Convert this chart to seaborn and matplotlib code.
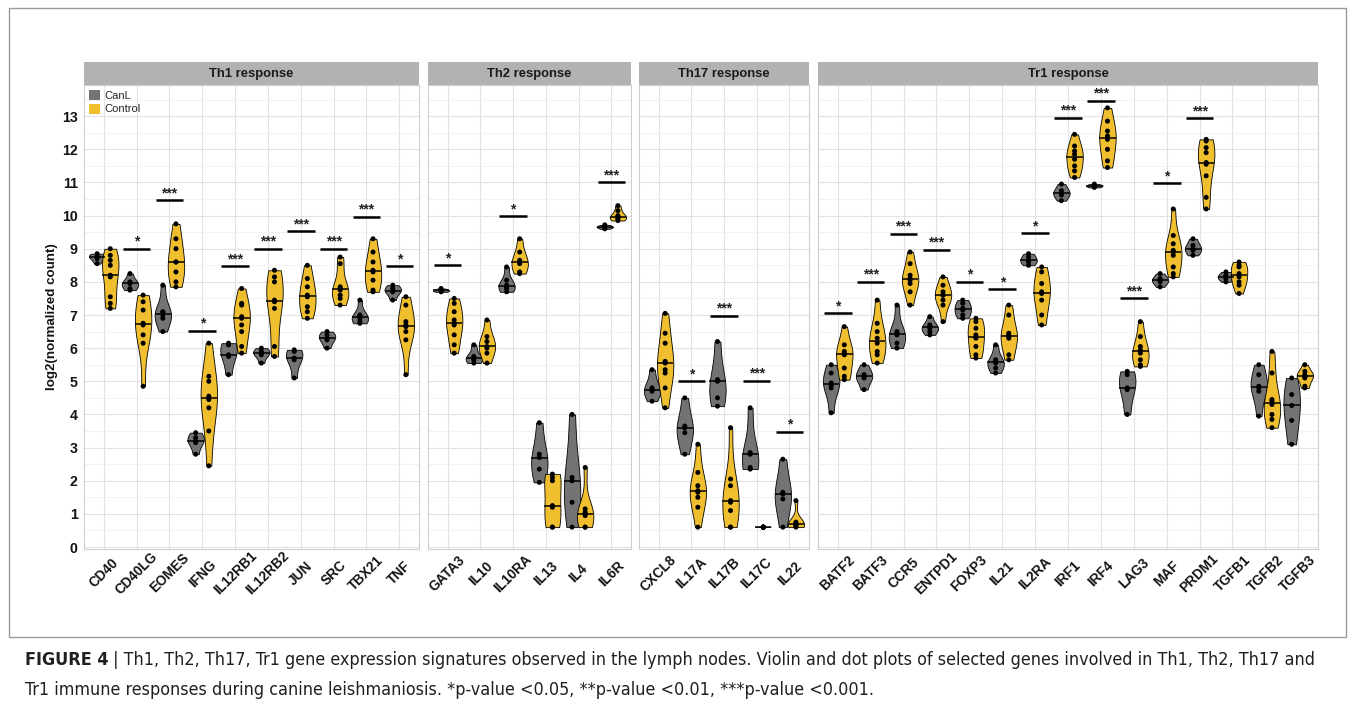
import numpy as np
import pandas as pd
import matplotlib.pyplot as plt
import seaborn as sns
from matplotlib.patches import Patch, Rectangle
from matplotlib.ticker import MultipleLocator
from matplotlib.transforms import ScaledTranslation

sns.set_style('white')
plt.rcParams['font.family'] = ['Liberation Sans', 'DejaVu Sans']

# ---- data (log2 normalized counts) ----
groups = ['CanL', 'Control']
colors = {'CanL': '#737373', 'Control': '#F0BF30'}

th1_genes = ['CD40', 'CD40LG', 'EOMES', 'IFNG', 'IL12RB1', 'IL12RB2', 'JUN', 'SRC', 'TBX21', 'TNF']
th1_canl = [
    [8.85, 8.8, 8.75, 8.7, 8.55],
    [8.25, 8.0, 7.97, 7.95, 7.8, 7.75],
    [7.9, 7.1, 7.08, 7.0, 6.9, 6.5],
    [3.45, 3.3, 3.2, 3.15, 2.8],
    [6.15, 6.1, 5.8, 5.75, 5.2],
    [6.0, 5.9, 5.85, 5.8, 5.55],
    [5.95, 5.9, 5.7, 5.65, 5.1],
    [6.5, 6.4, 6.3, 6.25, 6.0],
    [7.45, 7.0, 6.98, 6.9, 6.8, 6.75],
    [7.9, 7.8, 7.72, 7.7, 7.45],
]
th1_ctrl = [
    [9.0, 8.8, 8.65, 8.5, 8.2, 8.15, 7.55, 7.35, 7.2],
    [7.6, 7.4, 7.15, 6.75, 6.7, 6.4, 6.15, 4.85],
    [9.75, 9.3, 9.0, 8.6, 8.6, 8.3, 8.0, 7.85],
    [6.15, 5.15, 5.0, 4.55, 4.45, 4.2, 3.5, 2.45],
    [7.8, 7.35, 7.3, 6.95, 6.9, 6.7, 6.5, 6.05, 5.85],
    [8.35, 8.15, 8.0, 7.45, 7.4, 7.2, 6.05, 5.75],
    [8.5, 8.1, 7.85, 7.6, 7.55, 7.25, 7.1, 6.9],
    [8.75, 8.55, 7.85, 7.8, 7.75, 7.6, 7.5, 7.3],
    [9.3, 8.9, 8.6, 8.35, 8.3, 8.05, 7.75, 7.7],
    [7.55, 7.3, 6.8, 6.7, 6.65, 6.5, 6.25, 5.2],
]
th1_sig = ['', '*', '***', '*', '***', '***', '***', '***', '***', '*']
th1_sig_y = [np.nan, 9.0, 10.47, 6.53, 8.48, 9.0, 9.53, 9.0, 9.96, 8.48]

th2_genes = ['GATA3', 'IL10', 'IL10RA', 'IL13', 'IL4', 'IL6R']
th2_canl = [
    [7.8, 7.75, 7.75, 7.72, 7.7],
    [6.1, 5.75, 5.7, 5.65, 5.55],
    [8.45, 8.05, 7.9, 7.85, 7.8, 7.7],
    [3.75, 2.8, 2.7, 2.35, 1.95],
    [4.0, 2.1, 2.0, 1.35, 0.6],
    [9.72, 9.68, 9.66, 9.64, 9.6],
]
th2_ctrl = [
    [7.5, 7.35, 7.1, 6.85, 6.75, 6.7, 6.4, 6.1, 5.85],
    [6.85, 6.35, 6.2, 6.05, 6.0, 5.85, 5.55],
    [9.3, 8.9, 8.65, 8.6, 8.55, 8.3, 8.25],
    [2.2, 2.1, 2.0, 1.25, 1.2, 0.6, 0.6],
    [2.4, 1.15, 1.05, 1.0, 0.95, 0.6, 0.6],
    [10.3, 10.15, 10.0, 9.96, 9.95, 9.9, 9.85],
]
th2_sig = ['*', '', '*', '', '', '***']
th2_sig_y = [8.51, np.nan, 9.98, np.nan, np.nan, 11.0]

th17_genes = ['CXCL8', 'IL17A', 'IL17B', 'IL17C', 'IL22']
th17_canl = [
    [5.35, 4.8, 4.75, 4.7, 4.4],
    [4.5, 3.65, 3.6, 3.45, 2.8],
    [6.2, 5.05, 5.0, 4.5, 4.25],
    [4.2, 2.85, 2.8, 2.4, 2.35],
    [2.65, 1.65, 1.6, 1.45, 0.6],
]
th17_ctrl = [
    [7.05, 6.45, 6.15, 5.6, 5.55, 5.35, 5.25, 4.8, 4.2],
    [3.1, 2.25, 1.85, 1.7, 1.65, 1.5, 1.2, 0.6],
    [3.6, 2.05, 1.85, 1.4, 1.35, 1.1, 0.6, 0.6],
    [0.6, 0.6, 0.6, 0.6, 0.6, 0.6, 0.6],
    [1.4, 0.75, 0.72, 0.7, 0.65, 0.62, 0.6],
]
th17_sig = ['', '*', '***', '***', '*']
th17_sig_y = [np.nan, 5.01, 6.98, 5.02, 3.48]

tr1_genes = ['BATF2', 'BATF3', 'CCR5', 'ENTPD1', 'FOXP3', 'IL21', 'IL2RA', 'IRF1',
             'IRF4', 'LAG3', 'MAF', 'PRDM1', 'TGFB1', 'TGFB2', 'TGFB3']
tr1_canl = [
    [5.5, 5.25, 4.95, 4.88, 4.8, 4.05],
    [5.5, 5.2, 5.15, 5.1, 4.75],
    [7.3, 6.5, 6.45, 6.4, 6.15, 6.0],
    [6.95, 6.7, 6.65, 6.6, 6.5, 6.4],
    [7.45, 7.35, 7.2, 7.15, 7.0, 6.9],
    [6.1, 5.65, 5.6, 5.55, 5.4, 5.25],
    [8.85, 8.75, 8.65, 8.6, 8.5],
    [10.95, 10.75, 10.68, 10.62, 10.45],
    [10.95, 10.92, 10.9, 10.88, 10.85],
    [5.3, 5.2, 4.8, 4.75, 4.0],
    [8.25, 8.1, 8.05, 8.0, 7.85],
    [9.3, 9.1, 9.0, 8.95, 8.8],
    [8.3, 8.2, 8.15, 8.1, 8.0],
    [5.5, 5.2, 4.85, 4.8, 4.7, 3.95],
    [5.1, 4.6, 4.27, 3.82, 3.1],
]
tr1_ctrl = [
    [6.65, 6.1, 5.9, 5.85, 5.8, 5.4, 5.15, 5.05],
    [7.45, 6.75, 6.5, 6.3, 6.15, 5.9, 5.8, 5.55],
    [8.9, 8.55, 8.2, 8.1, 8.05, 7.95, 7.7, 7.3],
    [8.15, 7.9, 7.7, 7.6, 7.6, 7.45, 7.3, 6.8],
    [6.9, 6.8, 6.6, 6.4, 6.3, 6.05, 5.8, 5.7],
    [7.3, 7.0, 6.45, 6.4, 6.35, 6.3, 5.8, 5.65],
    [8.45, 8.3, 7.95, 7.7, 7.65, 7.45, 7.0, 6.7],
    [12.45, 12.1, 11.95, 11.85, 11.7, 11.5, 11.35, 11.15],
    [13.25, 12.85, 12.55, 12.4, 12.3, 12.0, 11.65, 11.45],
    [6.8, 6.35, 6.05, 5.95, 5.85, 5.65, 5.5, 5.45],
    [10.2, 9.4, 9.15, 8.95, 8.9, 8.8, 8.45, 8.25, 8.15],
    [12.3, 12.25, 12.05, 11.9, 11.6, 11.55, 11.2, 10.55, 10.2],
    [8.6, 8.5, 8.45, 8.25, 8.15, 8.0, 7.9, 7.65],
    [5.9, 5.25, 4.45, 4.4, 4.3, 4.0, 3.85, 3.6],
    [5.5, 5.3, 5.2, 5.15, 5.15, 5.1, 4.85, 4.8],
]
tr1_sig = ['*', '***', '***', '***', '*', '*', '*', '***', '***', '***', '*', '***', '', '', '']
tr1_sig_y = [7.05, 8.0, 9.45, 8.97, 8.0, 7.78, 9.47, 12.95, 13.47, 7.5, 10.97, 12.93,
             np.nan, np.nan, np.nan]

panels = [
    ('Th1 response', th1_genes, th1_canl, th1_ctrl, th1_sig, th1_sig_y),
    ('Th2 response', th2_genes, th2_canl, th2_ctrl, th2_sig, th2_sig_y),
    ('Th17 response', th17_genes, th17_canl, th17_ctrl, th17_sig, th17_sig_y),
    ('Tr1 response', tr1_genes, tr1_canl, tr1_ctrl, tr1_sig, tr1_sig_y),
]


def long_df(genes, canl, ctrl):
    rows = []
    for g, a, b in zip(genes, canl, ctrl):
        rows += [(g, 'CanL', v) for v in a]
        rows += [(g, 'Control', v) for v in b]
    return pd.DataFrame(rows, columns=['gene', 'group', 'value'])


# ---- layout (pixels) ----
W, H = 1355, 718
fig = plt.figure(figsize=(W / 100, H / 100), dpi=100)
panel_x = [(84, 419), (428, 631), (639, 809), (818, 1318)]
top_px, bot_px, strip_h = 85, 549, 23
label_shift = ScaledTranslation(3 / 100, 0, fig.dpi_scale_trans)

for k, (title, genes, canl, ctrl, sig, sig_y) in enumerate(panels):
    x0, x1 = panel_x[k]
    ax = fig.add_axes([x0 / W, 1 - bot_px / H, (x1 - x0) / W, (bot_px - top_px) / H])
    df = long_df(genes, canl, ctrl)
    n = len(genes)

    sns.violinplot(data=df, x='gene', y='value', hue='group', order=genes,
                   hue_order=groups, palette=colors, dodge=True, width=0.8, gap=-0.25,
                   cut=0, density_norm='width', inner=None, linewidth=0.6,
                   linecolor='black', saturation=1, legend=False, ax=ax, zorder=2)
    # medians
    for i, (a, b) in enumerate(zip(canl, ctrl)):
        for off, vals in ((-0.2, a), (0.2, b)):
            ax.hlines(np.median(vals), i + off - 0.25, i + off + 0.25,
                      color='black', lw=1.1, zorder=4)
    sns.stripplot(data=df, x='gene', y='value', hue='group', order=genes,
                  hue_order=groups, palette={'CanL': 'black', 'Control': 'black'},
                  dodge=True, jitter=False, size=3.6, legend=False, ax=ax, zorder=5)
    # significance bars
    for i, (s, y) in enumerate(zip(sig, sig_y)):
        if s:
            ax.hlines(y, i - 0.42, i + 0.42, color='black', lw=1.8, zorder=5)
            ax.text(i, y + 0.09, s, ha='center', va='baseline', fontsize=10,
                    fontweight='bold', color='#222222')

    ax.set_xlim(-0.6, n - 0.4)
    ax.set_ylim(-0.06, 13.94)
    ax.set_xlabel('')
    ax.set_ylabel('')
    ax.set_yticks(range(14))
    ax.yaxis.set_minor_locator(MultipleLocator(0.5))
    ax.grid(True, which='major', color='#E2E2E2', lw=0.8, zorder=0)
    ax.grid(True, which='minor', axis='y', color='#F0F0F0', lw=0.6, zorder=0)
    ax.set_axisbelow(True)
    for sp in ax.spines.values():
        sp.set_color('#CFCFCF')
        sp.set_linewidth(0.8)
    ax.set_xticks(range(n))
    ax.set_xticklabels(genes, rotation=45, ha='center', va='center',
                       fontweight='bold', fontsize=9.8, color='#141414')
    for lab in ax.get_xticklabels():
        lab.set_transform(lab.get_transform() + label_shift)
    ax.tick_params(axis='x', length=3, color='#AAAAAA', pad=14.5)
    ax.tick_params(which='minor', length=0)
    if k == 0:
        ax.tick_params(axis='y', length=3, color='#AAAAAA', pad=1.5)
        plt.setp(ax.get_yticklabels(), fontweight='bold', fontsize=10.2, color='#141414')
        ax.set_ylabel('log2(normalized count)', fontweight='bold', fontsize=9.6,
                      color='#141414', labelpad=3)
        handles = [Patch(facecolor=colors[g], edgecolor='none', label=g) for g in groups]
        ax.legend(handles=handles, loc='upper left', frameon=False, fontsize=8,
                  handlelength=1.0, handleheight=1.0, handletextpad=0.4,
                  labelspacing=0.25, borderaxespad=0.25, borderpad=0.2)
    else:
        ax.tick_params(axis='y', length=0, labelleft=False)

    sax = fig.add_axes([x0 / W, 1 - top_px / H, (x1 - x0) / W, strip_h / H])
    sax.set_facecolor('#B2B2B2')
    sax.set_xticks([])
    sax.set_yticks([])
    for sp in sax.spines.values():
        sp.set_visible(False)
    sax.text(0.5, 0.5, title, ha='center', va='center', fontweight='bold',
             fontsize=9.4, color='#1A1A1A', transform=sax.transAxes)

# frame around the figure
fig.add_artist(Rectangle((9 / W, 1 - 637 / H), (1346 - 9) / W, (637 - 8) / H,
                         transform=fig.transFigure, fill=False,
                         edgecolor='#9A9A9A', lw=1.0))

# caption
cap_font = ['Liberation Sans Narrow', 'DejaVu Sans']
renderer = fig.canvas.get_renderer()
line1 = (' | Th1, Th2, Th17, Tr1 gene expression signatures observed in the lymph nodes. '
         'Violin and dot plots of selected genes involved in Th1, Th2, Th17 and')
line2 = ('Tr1 immune responses during canine leishmaniosis. *p-value <0.05, '
         '**p-value <0.01, ***p-value <0.001.')
fs = 12.5
t0 = fig.text(25 / W, 1 - 660 / H, 'FIGURE 4', fontsize=fs, fontweight='bold',
              family=cap_font, fontstretch='condensed', va='center', ha='left',
              color='#231F20')
t1 = fig.text(0, 1 - 660 / H, line1, fontsize=fs, family=cap_font,
              fontstretch='condensed', va='center', ha='left', color='#231F20')
w0 = t0.get_window_extent(renderer).width
w1 = t1.get_window_extent(renderer).width
scale = (1318 - 25) / (w0 + w1)
fs *= scale
t0.set_fontsize(fs)
t1.set_fontsize(fs)
w0 = t0.get_window_extent(renderer).width
t1.set_x((25 + w0) / W)
fig.text(25 / W, 1 - 690 / H, line2, fontsize=fs, family=cap_font,
         fontstretch='condensed', va='center', ha='left', color='#231F20')

fig.savefig('out.png', dpi=100, facecolor='white')
